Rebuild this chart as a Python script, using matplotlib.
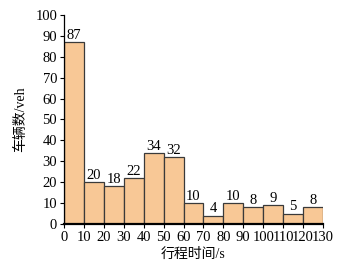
import matplotlib
matplotlib.use("Agg")
import matplotlib.pyplot as plt

bin_edges = [0, 10, 20, 30, 40, 50, 60, 70, 80, 90, 100, 110, 120, 130]
counts = [87, 20, 18, 22, 34, 32, 10, 4, 10, 8, 9, 5, 8]
x_ticks = [0, 10, 20, 30, 40, 50, 60, 70, 80, 90, 100, 110, 120, 130]
y_ticks = [0, 10, 20, 30, 40, 50, 60, 70, 80, 90, 100]

plt.rcParams['font.family'] = ['Liberation Serif', 'Noto Sans CJK SC']
plt.rcParams['font.size'] = 10.5

fig = plt.figure(figsize=(3.41, 2.67), dpi=100)
ax = fig.add_axes([0.188, 0.161, 0.759, 0.783])

lefts = bin_edges[:-1]
widths = [bin_edges[i + 1] - bin_edges[i] for i in range(len(counts))]
bars = ax.bar(lefts, counts, width=widths, align='edge', color='#F8C896',
              edgecolor='#3a3a3a', linewidth=0.9)
for l, w, c in zip(lefts, widths, counts):
    ax.text(l + w / 2, c + 0.2, str(c), ha='center', va='bottom', fontsize=10.5)

ax.set_xlim(0, 130)
ax.set_ylim(0, 100)
ax.set_xticks(x_ticks)
ax.set_yticks(y_ticks)
ax.spines['top'].set_visible(False)
ax.spines['right'].set_visible(False)
ax.spines['bottom'].set_linewidth(1.6)
ax.spines['left'].set_linewidth(0.9)
ax.tick_params(direction='out', length=3, width=0.8, pad=2)
ax.set_xlabel('行程时间/s', fontsize=10, labelpad=3)
ax.set_ylabel('车辆数/veh', fontsize=10, labelpad=6)

fig.savefig('out.png', dpi=100)
